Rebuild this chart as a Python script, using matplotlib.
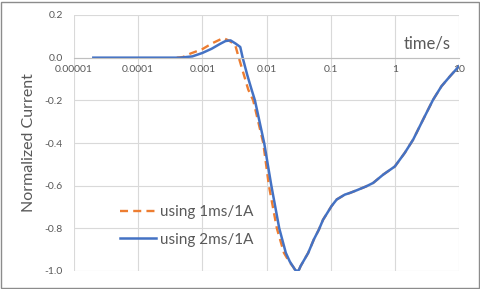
import matplotlib
matplotlib.use("Agg")
import matplotlib.pyplot as plt
from matplotlib.patches import Rectangle
from matplotlib.ticker import FixedLocator, NullLocator


# blue curve: measured with 2ms/1A
t_2ms = [2e-5, 1e-4, 4.5e-4, 7e-4, 1e-3, 1.4e-3, 1.9e-3, 2.3e-3, 2.75e-3, 3.3e-3,
         3.9e-3, 4.25e-3, 5.0e-3, 5.86e-3, 6.6e-3, 9.2e-3, 1.19e-2, 1.58e-2, 2.0e-2,
         2.31e-2, 2.6e-2, 2.8e-2, 3.0e-2, 3.2e-2, 3.4e-2, 3.73e-2, 4.47e-2, 5.47e-2,
         6.55e-2, 7.6e-2, 8.9e-2, 0.103, 0.124, 0.166, 0.2, 0.253, 0.36, 0.46, 0.66,
         1.0, 1.43, 1.93, 2.76, 3.95, 5.33, 7.2, 10.0]
i_2ms = [0.0, 0.0, 0.0, 0.006, 0.022, 0.042, 0.065, 0.078, 0.081, 0.066,
         0.05, 0.0, -0.08, -0.15, -0.2, -0.4, -0.6, -0.8, -0.915,
         -0.956, -0.98, -0.995, -1.0, -0.995, -0.977, -0.956, -0.915, -0.852,
         -0.806, -0.76, -0.727, -0.696, -0.665, -0.642, -0.634, -0.622, -0.603, -0.587, -0.548,
         -0.51, -0.446, -0.384, -0.29, -0.197, -0.134, -0.088, -0.04]

# orange dashed curve: measured with 1ms/1A (follows the blue one after the minimum)
t_1ms = [4e-4, 5e-4, 6.5e-4, 1e-3, 1.46e-3, 2.12e-3, 2.6e-3, 3.24e-3, 3.7e-3,
         5.2e-3, 6.2e-3, 8.9e-3, 1.09e-2, 1.45e-2, 1.87e-2, 2.25e-2, 2.6e-2, 2.8e-2,
         3.0e-2, 3.2e-2, 3.4e-2, 3.73e-2, 4.47e-2, 5.47e-2, 6.55e-2, 7.6e-2, 8.9e-2,
         0.103, 0.124, 0.166, 0.2, 0.253, 0.36, 0.46, 0.66, 1.0, 1.43, 1.93, 2.76,
         3.95, 5.33, 7.2, 10.0]
i_1ms = [0.0, 0.003, 0.019, 0.04, 0.069, 0.092, 0.08, 0.061, 0.0,
         -0.15, -0.2, -0.4, -0.6, -0.8, -0.915, -0.956, -0.98, -0.995,
         -1.0, -0.995, -0.977, -0.956, -0.915, -0.852, -0.806, -0.76, -0.727,
         -0.696, -0.665, -0.642, -0.634, -0.622, -0.603, -0.587, -0.548, -0.51, -0.446, -0.384, -0.29,
         -0.197, -0.134, -0.088, -0.04]

x_ticks = [1e-5, 1e-4, 1e-3, 1e-2, 1e-1, 1, 10]
x_labels = ["0.00001", "0.0001", "0.001", "0.01", "0.1", "1", "10"]
y_ticks = [-1.0, -0.8, -0.6, -0.4, -0.2, 0.0, 0.2]

TEXT = "#595959"
GRID = "#d9d9d9"

plt.rcParams["font.family"] = ["Lato", "DejaVu Sans"]
plt.rcParams["axes.unicode_minus"] = False

fig = plt.figure(figsize=(4.8, 2.89), dpi=100)
ax = fig.add_axes([74 / 480, 1 - 271 / 289, 385 / 480, 256 / 289])

ax.plot(t_1ms, i_1ms, color="#ed7d31", lw=1.7, ls=(0, (3.4, 2.2)), label="using 1ms/1A")
ax.plot(t_2ms, i_2ms, color="#4472c4", lw=1.8, label="using 2ms/1A")

ax.set_xscale("log")
ax.set_xlim(1e-5, 10)
ax.set_ylim(-1.0, 0.2)
ax.xaxis.set_major_locator(FixedLocator(x_ticks))
ax.xaxis.set_minor_locator(NullLocator())
ax.set_xticklabels(x_labels)
ax.set_yticks(y_ticks)
ax.set_yticklabels([f"{v:.1f}" for v in y_ticks])
ax.tick_params(length=0, labelsize=7.5, labelcolor=TEXT)
ax.tick_params(axis="y", pad=8)
ax.tick_params(axis="x", pad=5)

ax.grid(True, color=GRID, lw=0.8)
ax.set_axisbelow(True)
for name in ["top", "right", "left"]:
    ax.spines[name].set_visible(False)
ax.spines["bottom"].set_position(("data", 0))
ax.spines["bottom"].set_color("#bfbfbf")
ax.spines["bottom"].set_linewidth(0.8)

ax.text(0.917, 0.887, "time/s", transform=ax.transAxes, ha="center", va="center",
        fontsize=12, color=TEXT)
fig.text(29 / 480, 1 - 143 / 289, "Normalized Current", rotation=90, ha="center", va="center",
         fontsize=11.5, color=TEXT)

ax.legend(loc="upper left", bbox_to_anchor=(120 / 480, 1 - 205 / 289), bbox_transform=fig.transFigure,
          frameon=False, fontsize=11, borderpad=0, borderaxespad=0, handlelength=2.35,
          handletextpad=0.26, labelspacing=0.9, labelcolor=TEXT)

fig.add_artist(Rectangle((0.5 / 480, 1.5 / 289), 478 / 480, 286 / 289, transform=fig.transFigure,
                         fill=False, edgecolor="#8c8c8c", lw=1.0))

fig.savefig("out.png", dpi=100)
